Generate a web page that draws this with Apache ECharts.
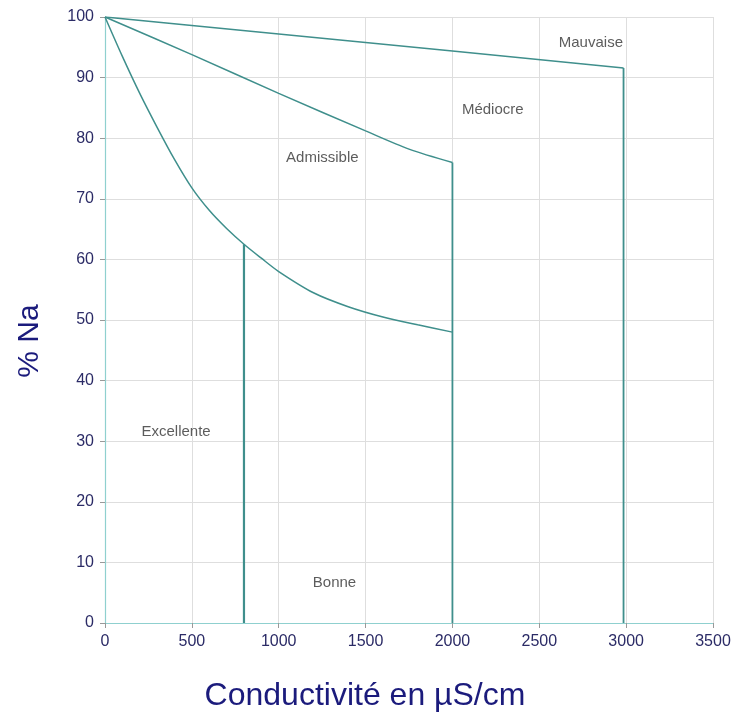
<!DOCTYPE html>
<html>
<head>
<meta charset="utf-8">
<script src="https://cdn.jsdelivr.net/npm/echarts@6/dist/echarts.min.js"></script>
<style>
  html, body { margin: 0; padding: 0; background: #fff; }
  #chart { width: 734px; height: 713px; }
</style>
</head>
<body>
<div id="chart"></div>
<script>
(function(window, echarts){
    'use strict';

    // axis ticks
    var xTicks = [0, 500, 1000, 1500, 2000, 2500, 3000, 3500];
    var yTicks = [0, 10, 20, 30, 40, 50, 60, 70, 80, 90, 100];

    // limit curves of the diagram [conductivity, %Na]
    var mauvaiseLimit = [[0, 100], [2000, 94.4], [2985, 91.6]];
    var mediocreLimit = [[0, 100], [500, 93.8], [1000, 87.4], [1500, 81.2],
                         [1750, 78.2], [2000, 76]];
    var admissibleLimit = [[0, 100], [100, 93.5], [200, 87.4], [300, 81.8], [400, 76.5],
                           [500, 71.8], [600, 68.1], [700, 65.1], [800, 62.5], [900, 60.2],
                           [1000, 58], [1200, 54.5], [1400, 52.2], [1600, 50.5],
                           [1800, 49.2], [2000, 48]];

    // vertical boundaries
    var bonneEdge = [[800, 62.5], [800, 0]];
    var mediocreEdge = [[2000, 76], [2000, 0]];
    var mauvaiseEdge = [[2985, 91.6], [2985, 0]];

    // zone names
    var zoneNames = ['Mauvaise', 'Médiocre', 'Admissible', 'Excellente', 'Bonne'];
    var zoneX = [2797, 2232, 1251, 409, 1321];
    var zoneY = [95.7, 84.7, 76.8, 31.6, 6.7];

    var lineColor = '#3f8f8c';
    var navy = '#1b1b7c';
    var tickColor = '#2b2b66';

    var chart = echarts.init(document.getElementById('chart'));

    var lineSeries = function(data, width, smooth) {
        return {
            type: 'line',
            data: data,
            symbol: 'none',
            silent: true,
            smooth: smooth ? 0.3 : false,
            lineStyle: { color: lineColor, width: width || 1.5 },
            z: 3
        };
    };

    chart.setOption({
        backgroundColor: '#fff',
        animation: false,
        grid: { left: 105, right: 21, top: 17, bottom: 90 },
        xAxis: {
            type: 'value',
            min: xTicks[0],
            max: xTicks[xTicks.length - 1],
            interval: 500,
            axisLine: { show: true, onZero: false, lineStyle: { color: '#8fd0cf', width: 1.2 } },
            axisTick: { show: true, length: 5, lineStyle: { color: '#999' } },
            axisLabel: { color: tickColor, fontSize: 16, fontFamily: 'Liberation Sans', margin: 11,
                         formatter: function(v) { return String(v); } },
            splitLine: { show: true, lineStyle: { color: '#dedede' } }
        },
        yAxis: {
            type: 'value',
            min: yTicks[0],
            max: yTicks[yTicks.length - 1],
            interval: 10,
            axisLine: { show: true, onZero: false, lineStyle: { color: '#8fd0cf', width: 1.2 } },
            axisTick: { show: true, length: 5, lineStyle: { color: '#999' } },
            axisLabel: { color: tickColor, fontSize: 16, fontFamily: 'Liberation Sans', margin: 11,
                         formatter: function(v) { return String(v); } },
            splitLine: { show: true, lineStyle: { color: '#dedede' } }
        },
        graphic: [
            {
                type: 'text',
                x: 365,
                y: 696,
                style: {
                    text: 'Conductivité en µS/cm',
                    fill: navy,
                    font: '32px "Liberation Sans"',
                    align: 'center',
                    verticalAlign: 'middle'
                }
            },
            {
                type: 'text',
                x: 30,
                y: 341,
                rotation: Math.PI / 2,
                style: {
                    text: '% Na',
                    fill: navy,
                    font: '30px "Liberation Sans"',
                    align: 'center',
                    verticalAlign: 'middle'
                }
            }
        ],
        series: [
            lineSeries(mauvaiseLimit),
            lineSeries(mediocreLimit, 1.5, true),
            lineSeries(admissibleLimit, 1.5, true),
            lineSeries(bonneEdge, 2.2),
            lineSeries(mediocreEdge, 1.8),
            lineSeries(mauvaiseEdge, 1.8),
            {
                type: 'scatter',
                symbolSize: 0,
                silent: true,
                data: zoneNames.map(function(n, i) {
                    return { name: n, value: [zoneX[i], zoneY[i]] };
                }),
                label: {
                    show: true,
                    position: 'inside',
                    formatter: '{b}',
                    color: '#333',
                    fontSize: 15,
                    fontFamily: 'Liberation Sans'
                }
            }
        ]
    });

})(window, window.echarts);
</script>
</body>
</html>
